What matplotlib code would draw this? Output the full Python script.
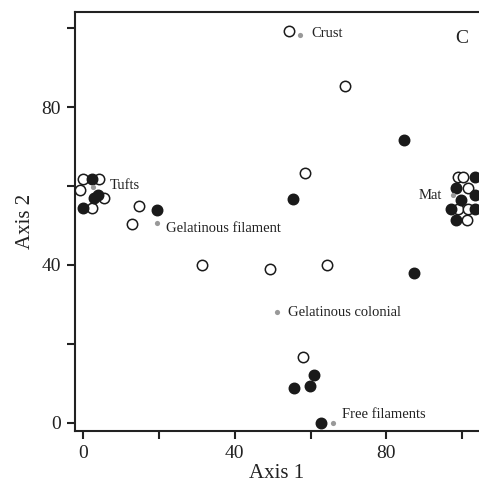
import matplotlib.pyplot as plt

plt.rcParams["font.family"] = ["Liberation Serif", "DejaVu Serif"]

# open circles (samples, group 1)
open_x = [54.2, 69.2, 58.4, 14.8, 12.9, 31.2, 49.4, 64.2, 57.9,
          0.0, 4.2, -0.9, 5.5, 2.2,
          98.8, 100.3, 101.6, 98.9, 101.6, 101.4]
open_y = [99.2, 85.3, 63.2, 54.9, 50.3, 39.9, 38.9, 39.9, 16.7,
          61.8, 61.8, 59.0, 57.0, 54.4,
          62.2, 62.2, 59.4, 54.1, 54.1, 51.4]

# filled circles (samples, group 2)
filled_x = [84.6, 55.4, 19.5, 87.2, 60.8, 59.8, 55.6, 62.8,
            2.2, 4.0, 2.8, 0.0,
            103.4, 98.5, 103.4, 99.8, 97.0, 103.4, 98.5]
filled_y = [71.6, 56.7, 53.9, 37.9, 12.1, 9.4, 8.7, 0.0,
            61.8, 57.7, 57.0, 54.4,
            62.2, 59.4, 57.7, 56.4, 54.1, 54.1, 51.4]

# growth form centroids
form_names = ["Crust", "Tufts", "Gelatinous filament", "Gelatinous colonial",
              "Free filaments", "Mat"]
form_x = [57.3, 2.6, 19.5, 51.2, 66.0, 97.6]
form_y = [98.3, 59.8, 50.6, 28.0, 0.0, 57.7]

fig = plt.figure(figsize=(4.79, 4.84), dpi=100)
ax = fig.add_axes([0.1566, 0.1085, 0.8414, 0.8665])

ax.scatter(open_x, open_y, s=56, facecolors="white", edgecolors="#1a1a1a",
           linewidths=1.1, zorder=3, clip_on=False)
ax.scatter(filled_x, filled_y, s=56, facecolors="#1a1a1a", edgecolors="#1a1a1a",
           linewidths=1.1, zorder=4, clip_on=False)
ax.scatter(form_x, form_y, s=14, color="#999999", linewidths=0, zorder=5,
           clip_on=False)

label_pos = {
    "Crust": (60.2, 98.8, "left"),
    "Tufts": (7.1, 60.2, "left"),
    "Gelatinous filament": (21.9, 49.3, "left"),
    "Gelatinous colonial": (54.1, 28.0, "left"),
    "Free filaments": (68.2, 2.2, "left"),
    "Mat": (94.6, 57.7, "right"),
}
for name in form_names:
    tx, ty, ha = label_pos[name]
    ax.text(tx, ty, name, fontsize=10.5, color="#222222", ha=ha, va="center")

ax.text(100, 97.4, "C", fontsize=14, color="#222222", ha="center", va="center")

ax.set_xlim(-2.2, 104.2)
ax.set_ylim(-2.2, 104.1)
ax.set_xticks([0, 20, 40, 60, 80, 100])
ax.set_xticklabels(["0", "", "40", "", "80", ""])
ax.set_yticks([0, 20, 40, 60, 80, 100])
ax.set_yticklabels(["0", "", "40", "", "80", ""])
ax.tick_params(direction="out", length=6, width=1.5, color="#222222",
               labelsize=14, labelcolor="#222222", pad=4)

for side in ["left", "top", "bottom"]:
    ax.spines[side].set_linewidth(1.5)
    ax.spines[side].set_color("#222222")
ax.spines["right"].set_visible(False)

ax.set_xlabel("Axis 1", fontsize=15, color="#222222", labelpad=1)
ax.set_ylabel("Axis 2", fontsize=15, color="#222222", labelpad=5)

fig.savefig("out.png", dpi=100)
